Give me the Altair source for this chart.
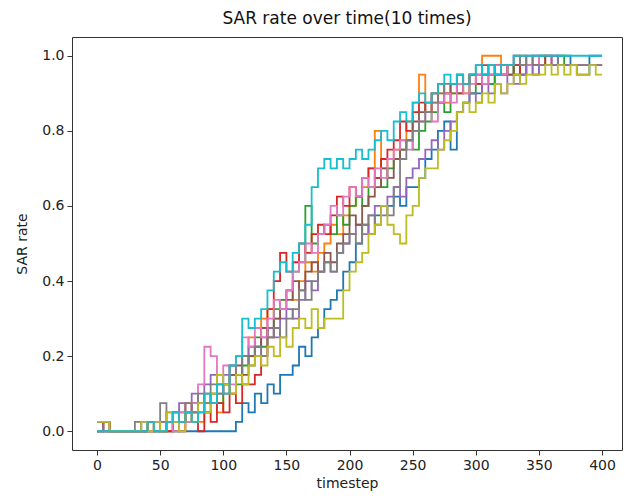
import altair as alt
import pandas as pd

timesteps = list(range(0, 401, 5))
run_names = ["run 1", "run 2", "run 3", "run 4", "run 5",
             "run 6", "run 7", "run 8", "run 9", "run 10"]
run_colors = ["#1f77b4", "#ff7f0e", "#2ca02c", "#d62728", "#9467bd",
              "#8c564b", "#e377c2", "#7f7f7f", "#bcbd22", "#17becf"]

run1 = [0, 0, 0, 0, 0, 0, 0, 0, 0, 0,
        0, 0, 0, 0, 0, 0, 0, 0, 0, 0,
        0, 0, .025, .075, .05, .1, .075, .125, .1, .15,
        .15, .175, .225, .2, .25, .275, .325, .35, .375, .425,
        .45, .5, .55, .525, .575, .6, .6, .625, .6, .65,
        .65, .675, .725, .75, .8, .825, .75, .85, .875, .9,
        .9, .925, .925, .95, .95, .975, .95, .975, .975, 1,
        1, 1, 1, 1, 1, .975, .95, .95, 1, 1, 1]
run2 = [.025, 0, 0, 0, 0, 0, 0, .025, 0, 0,
        .025, 0, .05, .025, .075, .05, .025, .075, .1, .05,
        .125, .1, .15, .2, .25, .225, .3, .325, .3, .35,
        .375, .35, .4, .45, .425, .475, .5, .55, .525, .575,
        .6, .625, .65, .7, .8, .7, .725, .75, .775, .825,
        .875, .95, .85, .875, .9, .875, .9, .925, .9, .95,
        .95, 1, 1, 1, .95, .95, .975, .95, .975, .95,
        .975, .975, .975, .975, .975, .975, .975, .975, .975, .975, .975]
run3 = [0, .025, 0, 0, 0, 0, 0, 0, .025, 0,
        0, .025, 0, .05, .025, .05, .075, .05, .1, .075,
        .125, .15, .125, .175, .2, .25, .225, .275, .325, .35,
        .375, .425, .45, .6, .5, .525, .55, .525, .575, .55,
        .6, .625, .6, .65, .675, .65, .7, .725, .75, .775,
        .75, .8, .825, .85, .875, .85, .9, .9, .925, .9,
        .925, .95, .925, .95, .95, .975, .95, .975, .975, .975,
        1, .975, .975, 1, .975, .975, .975, .975, .975, .975, .975]
run4 = [0, .025, 0, 0, 0, 0, 0, 0, 0, .025,
        0, 0, .025, 0, .05, .025, 0, .05, .025, .075,
        .05, .1, .075, .125, .125, .15, .2, .325, .4, .475,
        .425, .45, .5, .475, .525, .55, .525, .575, .625, .6,
        .65, .625, .675, .7, .675, .725, .75, .775, .825, .8,
        .85, .875, .85, .9, .875, .9, .925, .9, .925, .95,
        .925, .95, .95, .975, .95, .975, .975, .95, .975, .975,
        .975, 1, .975, .975, .975, .975, .975, .975, .975, .975, .975]
run5 = [.025, 0, 0, 0, 0, 0, 0, .025, .025, 0,
        .025, .05, .025, .075, .05, .1, .075, .125, .15, .1,
        .15, .175, .15, .2, .225, .2, .25, .275, .25, .3,
        .325, .3, .35, .4, .375, .425, .45, .425, .475, .5,
        .525, .55, .525, .575, .6, .575, .625, .65, .625, .675,
        .7, .725, .75, .775, .75, .8, .825, .85, .875, .9,
        .875, .925, .9, .925, .9, .95, .925, .95, .975, .95,
        .975, .975, 1, .975, .975, .975, .975, .975, .975, .975, .975]
run6 = [.025, .025, 0, 0, 0, 0, 0, 0, .025, .025,
        0, .025, .05, .025, .05, .075, .05, .1, .075, .125,
        .1, .15, .175, .15, .2, .225, .275, .25, .3, .325,
        .35, .4, .375, .425, .45, .425, .475, .45, .5, .525,
        .575, .55, .6, .625, .65, .7, .675, .725, .75, .775,
        .825, .85, .875, .9, .925, .9, .925, .95, .925, .95,
        .95, .975, .95, .975, .975, .95, .975, 1, .975, .975,
        .975, .975, .975, .975, .975, .975, .975, .975, .975, .975, .975]
run7 = [0, 0, 0, 0, 0, 0, 0, .025, 0, .025,
        0, .025, 0, .05, .025, .075, .125, .225, .2, .15,
        .175, .125, .2, .25, .225, .275, .25, .3, .35, .325,
        .375, .425, .45, .5, .475, .525, .55, .6, .575, .625,
        .65, .625, .675, .65, .7, .675, .725, .75, .775, .75,
        .8, .825, .85, .825, .875, .9, .875, .925, .9, .925,
        .95, .925, .95, .975, .95, .975, 1, .975, .975, 1,
        .975, .975, .975, .975, .975, .975, .975, .975, .975, .975, .975]
run8 = [0, 0, 0, 0, 0, 0, .025, 0, .025, .025,
        .075, .025, .05, .025, .075, .05, .1, .075, .125, .1,
        .125, .175, .15, .2, .175, .225, .2, .25, .275, .25,
        .3, .325, .375, .35, .4, .425, .45, .425, .475, .5,
        .525, .5, .55, .575, .55, .6, .575, .65, .725, .775,
        .8, .825, .85, .875, .9, .925, .925, .95, .925, .95,
        .975, .95, .975, .95, .975, .975, 1, .975, 1, .975,
        .975, .975, .975, .975, .975, .975, .975, .975, .975, .975, .975]
run9 = [.025, .025, 0, 0, 0, 0, 0, .025, 0, .025,
        0, .05, .025, 0, .05, .025, .075, .05, .1, .15,
        .125, .1, .15, .125, .175, .2, .175, .225, .2, .25,
        .225, .275, .3, .275, .325, .275, .3, .3, .3, .375,
        .425, .45, .475, .525, .55, .6, .55, .525, .5, .575,
        .6, .675, .7, .7, .75, .775, .8, .85, .875, .85,
        .875, .9, .875, .925, .9, .925, .95, .925, .95, .95,
        .95, .975, .95, .975, .95, .975, .95, .95, .975, .95, .95]
run10 = [0, 0, 0, 0, 0, 0, 0, 0, .025, 0,
         0, .025, .05, .025, .05, .025, .05, .1, .075, .125,
         .1, .175, .2, .3, .275, .3, .325, .375, .425, .45,
         .425, .475, .5, .55, .65, .7, .725, .7, .725, .7,
         .725, .75, .725, .75, .775, .8, .775, .825, .85, .825,
         .875, .9, .875, .9, .925, .95, .925, .95, .925, .95,
         .975, .95, .975, .95, .975, .975, 1, 1, 1, 1,
         1, 1, 1, 1, 1, 1, 1, 1, 1, 1, 1]

series = [run1, run2, run3, run4, run5, run6, run7, run8, run9, run10]

rows = []
for name, vals in zip(run_names, series):
    for t, v in zip(timesteps, vals):
        rows.append({"run": name, "timestep": t, "rate": v})
df = pd.DataFrame(rows)

x_ticks = [0, 50, 100, 150, 200, 250, 300, 350, 400]
y_ticks = [0.0, 0.2, 0.4, 0.6, 0.8, 1.0]

chart = alt.Chart(df).mark_line(
    interpolate="step-after", strokeWidth=1.8, clip=True
).encode(
    x=alt.X("timestep:Q",
            scale=alt.Scale(domain=[-19.8, 415.8], nice=False, zero=False),
            axis=alt.Axis(values=x_ticks, format="d", title="timestep",
                          titlePadding=4)),
    y=alt.Y("rate:Q",
            scale=alt.Scale(domain=[-0.05, 1.05], nice=False, zero=False),
            axis=alt.Axis(values=y_ticks, format=".1f", title="SAR rate",
                          titlePadding=12)),
    color=alt.Color("run:N",
                    scale=alt.Scale(domain=run_names, range=run_colors),
                    legend=None),
).properties(
    width=550,
    height=413,
    title=alt.TitleParams("SAR rate over time(10 times)", fontSize=17,
                          font="DejaVu Sans", fontWeight="normal",
                          color="#111", offset=9),
    padding={"left": 72, "top": 37, "right": 3, "bottom": 46},
    autosize="none",
).configure_view(
    stroke="#333", strokeWidth=1
).configure_axis(
    domain=False, grid=False, tickSize=5, tickColor="#333",
    labelFont="DejaVu Sans", labelFontSize=14, labelColor="#222",
    labelPadding=3,
    titleFont="DejaVu Sans", titleFontSize=14, titleFontWeight="normal",
    titleColor="#222"
)

chart.save("out.html", embed_options={"renderer": "svg", "actions": False})
